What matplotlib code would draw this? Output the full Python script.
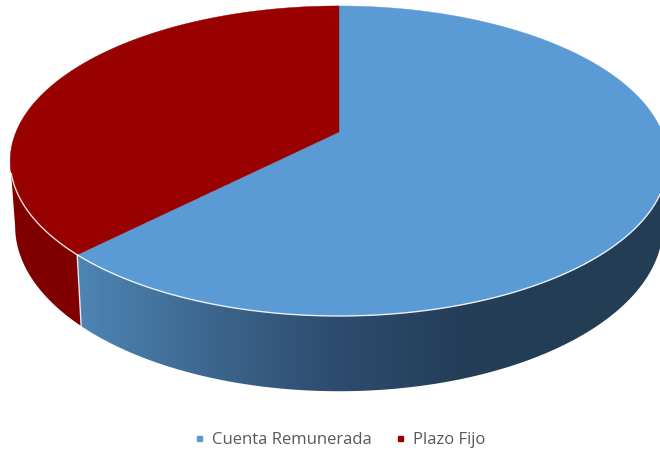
import numpy as np
import matplotlib
matplotlib.use('Agg')
import matplotlib.pyplot as plt
from matplotlib.colors import LinearSegmentedColormap
from matplotlib.lines import Line2D
from matplotlib.patches import Polygon

categorias = ['Cuenta Remunerada', 'Plazo Fijo']
valores = [62.4, 37.6]
cores = ['#5B9BD5', '#990000']
cores_lado = [['#4D84B3', '#3D678F', '#2E4C6E', '#253F5A', '#233D54'],
              ['#800000', '#7A0000']]

# 3d pie projection, in pixels
cx, cy = 339, 132
R, S = 323, 149.6
k = 0.187
s, d = 0.985, 63.4


def topo(theta):
    x, z = np.sin(theta), -np.cos(theta)
    w = 1 - k * z
    return cx + R * x / w, cy + S * z / w


def base(theta):
    x, z = np.sin(theta), -np.cos(theta)
    w = 1 - k * z
    return cx + s * R * x / w, cy + (s * S * z + d) / w


fig = plt.figure(figsize=(6.6, 4.5), dpi=100)
ax = fig.add_axes([0, 0, 1, 1])

limites = np.concatenate([[0], np.cumsum(valores) / np.sum(valores) * 2 * np.pi])

# the widest points of the rim, the walls are only seen between them
canto = np.arccos(-k)

# side walls first, gradient image clipped to the wall shape
faixa = np.linspace(0, 1, 512).reshape(1, -1)
for i in range(len(valores)):
    cmap = LinearSegmentedColormap.from_list('lado', cores_lado[i])
    tt = np.linspace(max(limites[i], canto), min(limites[i + 1], 2 * np.pi - canto), 400)
    xt, yt = topo(tt)
    xb, yb = base(tt)
    forma = Polygon(np.c_[np.r_[xt, xb[::-1]], np.r_[yt, yb[::-1]]], closed=True,
                    transform=ax.transData, fc='none', ec='none')
    ax.add_patch(forma)
    im = ax.imshow(faixa, cmap=cmap, extent=(82, 582, 400, 140), aspect='auto', zorder=2)
    im.set_clip_path(forma)
    # keep the gradient flat past its ends
    if xt.max() > 582:
        fim = ax.imshow(faixa[:, -1:], cmap=cmap, vmin=0, vmax=1,
                        extent=(582, 670, 400, 140), aspect='auto', zorder=2)
        fim.set_clip_path(forma)
    if xt.min() < 82:
        ini = ax.imshow(faixa[:, :1], cmap=cmap, vmin=0, vmax=1,
                        extent=(0, 82, 400, 140), aspect='auto', zorder=2)
        ini.set_clip_path(forma)

# top faces
for i in range(len(valores)):
    tt = np.linspace(limites[i], limites[i + 1], 400)
    xt, yt = topo(tt)
    ax.fill(np.r_[cx, xt], np.r_[cy, yt], color=cores[i], lw=0.3, zorder=3)

# white edge along the front rim and between the walls
tt = np.linspace(canto + 0.08, 2 * np.pi - canto - 0.08, 600)
xt, yt = topo(tt)
ax.plot(xt, yt, color='white', lw=1.0, alpha=0.85, zorder=4)
xa, ya = topo(limites[1])
xc, yc = base(limites[1])
ax.plot([xa, xc], [ya, yc], color='white', lw=1.0, alpha=0.85, zorder=4)

ax.set_xlim(0, 660)
ax.set_ylim(450, 0)
ax.axis('off')

marcas = [Line2D([], [], ls='', marker='s', ms=3.6, color=c) for c in cores]
fig.legend(marcas, categorias, ncol=2, frameon=False, prop={'family': 'Open Sans', 'size': 12},
           labelcolor='#595959', loc='center', bbox_to_anchor=(338 / 660, 1 - 440 / 450),
           handlelength=1.0, handletextpad=0.25, columnspacing=1.2)

plt.savefig('out.png', dpi=100)
